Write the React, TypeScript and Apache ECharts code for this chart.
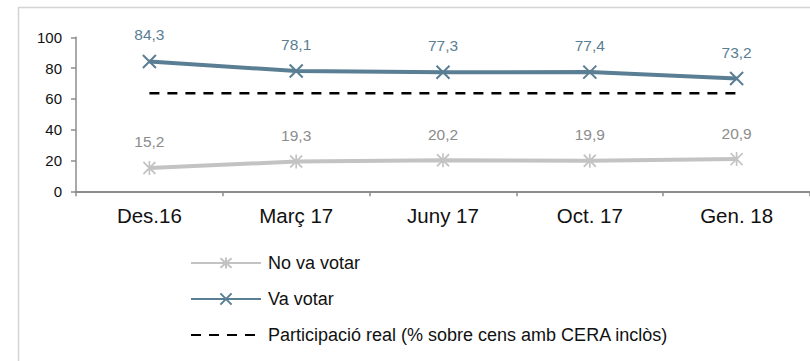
import React, { useEffect, useRef } from "react";
import * as echarts from "echarts";

const categories = ["Des.16", "Març 17", "Juny 17", "Oct. 17", "Gen. 18"];
const noVaVotar = [15.2, 19.3, 20.2, 19.9, 20.9];
const vaVotar = [84.3, 78.1, 77.3, 77.4, 73.2];
const participacioReal = [63.6, 63.6, 63.6, 63.6, 63.6];
const seriesNames = ["No va votar", "Va votar", "Participació real (% sobre cens amb CERA inclòs)"];

const FONT = "'Liberation Sans', Arial, sans-serif";
const BLUE = "#5A7E93";
const GRAY = "#C3C3C3";

const fmt = (p: any) => String(p.value).replace(".", ",");

export default function App() {
  const ref = useRef<HTMLDivElement>(null);
  useEffect(() => {
    const chart = echarts.init(ref.current!, undefined, { renderer: "svg" });
    chart.setOption({
      animation: false,
      backgroundColor: "#fff",
      textStyle: { fontFamily: FONT },
      graphic: [
        {
          type: "rect",
          shape: { x: 18.5, y: 7.5, width: 900, height: 500 },
          style: { fill: "none", stroke: "#D4D4D4", lineWidth: 1.5 },
          silent: true,
        },
      ],
      grid: { left: 76, top: 37.3, width: 745, height: 154 },
      legend: {
        orient: "vertical",
        left: 185,
        top: 249,
        itemWidth: 70,
        itemHeight: 14,
        itemGap: 18,
        textStyle: { fontSize: 18, color: "#111", fontFamily: FONT, lineHeight: 18, padding: [0, 0, 0, 2] },
        data: seriesNames,
      },
      xAxis: {
        type: "category",
        data: categories,
        boundaryGap: true,
        axisLine: { lineStyle: { color: "#8C8C8C", width: 2 } },
        axisTick: { show: true, interval: 0, length: 5, lineStyle: { color: "#8C8C8C", width: 1.5 } },
        axisLabel: { fontSize: 20.5, color: "#111", margin: 14, fontFamily: FONT },
        splitLine: { show: false },
      },
      yAxis: {
        type: "value",
        min: 0,
        max: 100,
        interval: 20,
        axisLine: { show: true, lineStyle: { color: "#8C8C8C", width: 1.5 } },
        axisTick: { show: true, length: 5, lineStyle: { color: "#8C8C8C", width: 1.5 } },
        axisLabel: { fontSize: 15, color: "#111", margin: 14, fontFamily: FONT },
        splitLine: { show: false },
      },
      series: [
        {
          name: seriesNames[0],
          type: "line",
          data: noVaVotar,
          symbol: "path://M0,1L12,13M12,1L0,13M6,0L6,14",
          symbolSize: [12, 14],
          itemStyle: { color: GRAY, borderColor: GRAY, borderWidth: 1.8 },
          lineStyle: { color: GRAY, width: 4 },
          label: { show: true, position: "top", distance: 10, fontSize: 15.5, color: "#8C8C8C", formatter: fmt, fontFamily: FONT },
          z: 3,
        },
        {
          name: seriesNames[1],
          type: "line",
          data: vaVotar,
          symbol: "path://M0,0L12,12M12,0L0,12",
          symbolSize: 13,
          itemStyle: { color: BLUE, borderColor: BLUE, borderWidth: 2 },
          lineStyle: { color: BLUE, width: 4 },
          label: { show: true, position: "top", distance: 11, fontSize: 15.5, color: BLUE, formatter: fmt, fontFamily: FONT },
          z: 3,
        },
        {
          name: seriesNames[2],
          type: "line",
          data: participacioReal,
          showSymbol: false,
          symbol: "circle",
          itemStyle: { color: "rgba(0,0,0,0)" },
          lineStyle: { color: "#000", width: 2.5, type: [10, 8] },
          z: 2,
        },
      ],
    });
    return () => chart.dispose();
  }, []);
  return <div ref={ref} style={{ position: "fixed", left: 0, top: 0, width: 810, height: 361 }} />;
}
